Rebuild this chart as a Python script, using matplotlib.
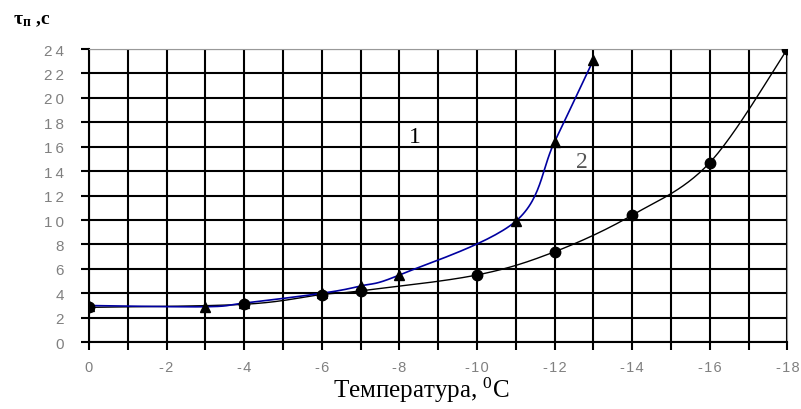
import numpy as np
from matplotlib import pyplot as plt
plt.rcParams['mathtext.fontset'] = 'custom'
plt.rcParams['mathtext.rm'] = 'Liberation Serif'
plt.rcParams['mathtext.it'] = 'Liberation Serif:italic'
plt.rcParams['mathtext.bf'] = 'Liberation Serif:bold'

# кривая 1 (синяя, треугольники)
t1 = [0, -3, -4, -6, -7, -8, -11, -12, -13]
tau1 = [3.0, 2.9, 3.2, 4.0, 4.6, 5.5, 9.9, 16.4, 23.1]
# кривая 2 (черная, круги)
t2 = [0, -4, -6, -7, -10, -12, -14, -16, -18]
tau2 = [2.85, 3.1, 3.9, 4.2, 5.5, 7.4, 10.4, 14.7, 24.0]

yticks = list(range(0, 25, 2))
xticks = list(range(0, -19, -2))


def smooth(xs, ys, n=30):
    # сглаженная линия как в Excel (Catmull-Rom)
    p = np.column_stack([xs, ys]).astype(float)
    p = np.vstack([p[0], p, p[-1]])
    out = []
    for i in range(1, len(p) - 2):
        p0, p1, p2, p3 = p[i - 1], p[i], p[i + 1], p[i + 2]
        s = np.linspace(0, 1, n)[:, None]
        seg = 0.5 * (2 * p1 + (-p0 + p2) * s + (2 * p0 - 5 * p1 + 4 * p2 - p3) * s ** 2
                     + (-p0 + 3 * p1 - 3 * p2 + p3) * s ** 3)
        out.append(seg)
    out = np.vstack(out)
    return out[:, 0], out[:, 1]


def spaced(v, sep='\u2009'):
    return sep.join(str(v))


fig = plt.figure(figsize=(8.01, 4.10), dpi=100)
ax = fig.add_axes([0.111, 0.163, 0.872, 0.715])

sx, sy = smooth(t2, tau2)
ax.plot(sx, sy, color='black', lw=1.0, zorder=3)
ax.plot(t2, tau2, 'o', color='black', ms=7.5, zorder=4)
sx, sy = smooth(t1, tau1)
ax.plot(sx, sy, color='#0000a0', lw=1.2, zorder=3)
ax.plot(t1, tau1, '^', color='black', ms=7.5, zorder=4)

ax.set_xlim(0, -18)
ax.set_ylim(0, 24)
ax.set_xticks(xticks)
ax.set_xticks(range(-1, -18, -2), minor=True)
ax.set_xticklabels([spaced(v, '\u200a') for v in xticks])
ax.set_yticks(yticks)
ax.set_yticklabels([spaced(v) for v in yticks])
ax.grid(True, which='both', color='black', lw=1.5)
ax.set_axisbelow(True)

ax.tick_params(axis='both', which='both', labelsize=11, labelcolor='#808080')
ax.tick_params(axis='y', length=6, width=1.5, pad=12)
ax.tick_params(axis='x', which='both', length=6, width=1.5, pad=7, labelsize=10.5)
for lab in ax.get_xticklabels() + ax.get_yticklabels():
    lab.set_family(['Liberation Sans', 'DejaVu Sans'])

ax.spines['left'].set_linewidth(1.5)
ax.spines['bottom'].set_linewidth(1.5)
ax.spines['top'].set_color('#999999')
ax.spines['right'].set_color('#999999')

ax.text(-8.4, 16.8, '1', family='Liberation Serif', fontsize=17, ha='center', va='center')
ax.text(-12.7, 14.8, '2', family='Liberation Serif', fontsize=17, color='#555555',
        ha='center', va='center')

fig.text(0.016, 0.942, r'$\mathbf{\tau}_{\mathbf{п}}$ ,с', family='Liberation Serif',
         fontsize=14, fontweight='bold')
fig.text(0.526, 0.029, 'Температура, $^0$С', family='Liberation Serif', fontsize=18,
         ha='center', va='baseline')

plt.savefig('out.png', dpi=100)
